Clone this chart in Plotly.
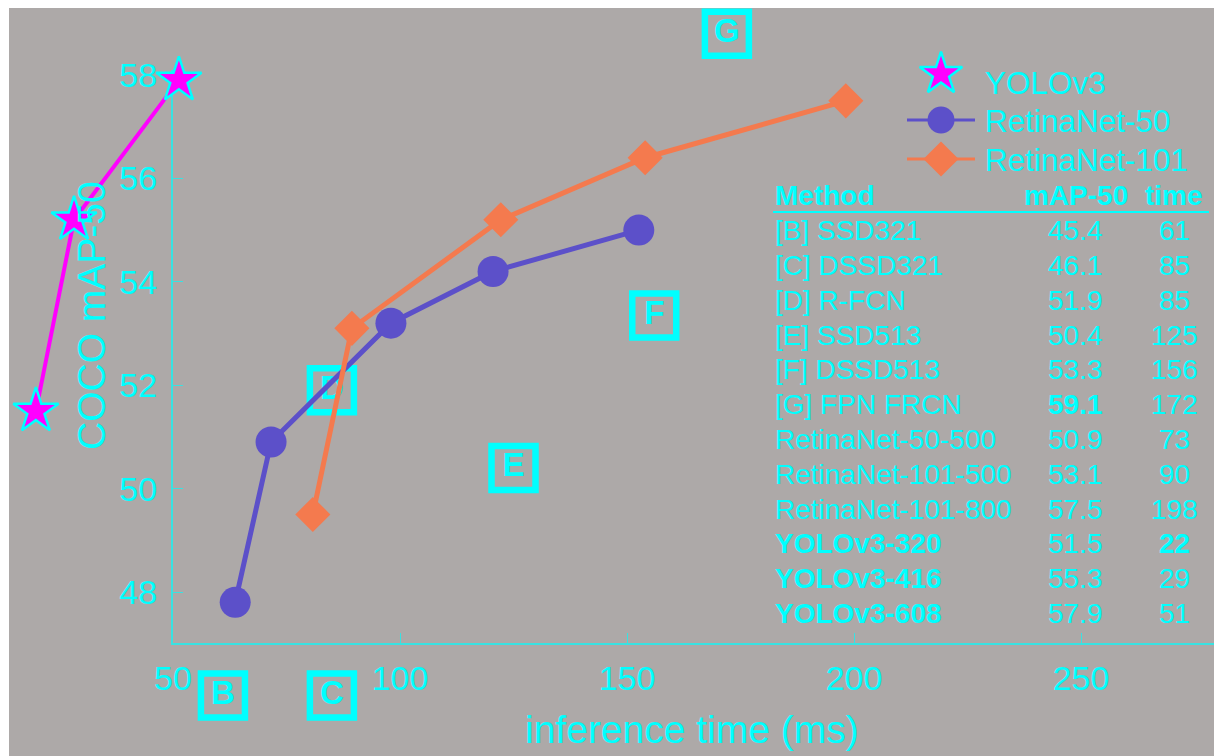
import plotly.graph_objects as go

W, H = 1214, 756

# ---------------- data ----------------
yolo_time = [19.8, 28.2, 51.3]
yolo_map = [51.5, 55.2, 57.9]

r50_time = [63.7, 71.6, 98.0, 120.5, 152.6]
r50_map = [47.8, 50.9, 53.2, 54.2, 55.0]

r101_time = [80.8, 89.4, 122.2, 154.0, 198.2]
r101_map = [49.5, 53.1, 55.2, 56.4, 57.5]

box_labels = ["B", "C", "D", "E", "F", "G"]
box_time = [61, 85, 85, 125, 156, 172]
box_map = [46.0, 46.0, 51.9, 50.4, 53.35, 58.8]

x_ticks = [50, 100, 150, 200, 250]
y_ticks = [48, 50, 52, 54, 56, 58]

table_header = ["Method", "mAP-50", "time"]
table_methods = ["[B] SSD321", "[C] DSSD321", "[D] R-FCN", "[E] SSD513", "[F] DSSD513",
                 "[G] FPN FRCN", "RetinaNet-50-500", "RetinaNet-101-500", "RetinaNet-101-800",
                 "YOLOv3-320", "YOLOv3-416", "YOLOv3-608"]
table_map = ["45.4", "46.1", "51.9", "50.4", "53.3", "59.1", "50.9", "53.1", "57.5",
             "51.5", "55.3", "57.9"]
table_time = ["61", "85", "85", "125", "156", "172", "73", "90", "198", "22", "29", "51"]
bold_method = [False] * 9 + [True] * 3
bold_map = [False] * 5 + [True] + [False] * 6
bold_time = [False] * 9 + [True] + [False] * 2

legend_names = ["YOLOv3", "RetinaNet-50", "RetinaNet-101"]

# ---------------- styling / layout constants ----------------
FONT = "Liberation Sans, Arial, Helvetica, sans-serif"
CYAN = "#00FFFF"
AXIS_CYAN = "#38E2E2"
GRAY = "#ADA9A8"
MAGENTA = "#FF00FF"
BLUE = "#5C50C9"
ORANGE = "#F47A4E"

# pixel calibration of the data axes
X50_PX, PX_PER_MS = 173.0, 4.54
Y48_PX, PX_PER_MAP = 592.0, 51.7
AXIS_BOTTOM_PX, AXIS_TOP_PX = 643.3, 70.0


def x_at(px):
    return 50 + (px - X50_PX) / PX_PER_MS


def y_at(py):
    return 48 + (Y48_PX - py) / PX_PER_MAP


def bold(s, b):
    return f"<b>{s}</b>" if b else s


fig = go.Figure()

# subplot xy: visible axes only
fig.add_trace(go.Scatter(x=[], y=[], xaxis="x", yaxis="y", showlegend=False, hoverinfo="skip"))

# subplot x2y2: data (full figure area, not clipped)
fig.add_trace(go.Scatter(
    x=box_time, y=box_map, xaxis="x2", yaxis="y2", mode="markers+text",
    text=[f"<b>{t}</b>" for t in box_labels], textposition="middle center",
    textfont=dict(family=FONT, size=33, color=CYAN),
    marker=dict(symbol="square-open", size=44, color=CYAN, line=dict(width=6.5, color=CYAN)),
    cliponaxis=False, showlegend=False, hoverinfo="skip"))

fig.add_trace(go.Scatter(
    x=yolo_time, y=yolo_map, xaxis="x2", yaxis="y2", mode="lines+markers", name="YOLOv3",
    line=dict(color=MAGENTA, width=4),
    marker=dict(symbol="star", size=34, color=MAGENTA, line=dict(color=CYAN, width=2.5)),
    cliponaxis=False, showlegend=False))

fig.add_trace(go.Scatter(
    x=r50_time, y=r50_map, xaxis="x2", yaxis="y2", mode="lines+markers", name="RetinaNet-50",
    line=dict(color=BLUE, width=5),
    marker=dict(symbol="circle", size=31, color=BLUE),
    cliponaxis=False, showlegend=False))

fig.add_trace(go.Scatter(
    x=r101_time, y=r101_map, xaxis="x2", yaxis="y2", mode="lines+markers", name="RetinaNet-101",
    line=dict(color=ORANGE, width=5),
    marker=dict(symbol="diamond", size=27, color=ORANGE),
    cliponaxis=False, showlegend=False))

# subplot x3y3: pixel-space overlay for the legend keys
LEG_X, LEG_LINE = 941, (907, 975)
LEG_Y = [74, 120, 159]
fig.add_trace(go.Scatter(x=[LEG_X], y=[LEG_Y[0]], xaxis="x3", yaxis="y3", mode="markers",
                         marker=dict(symbol="star", size=32, color=MAGENTA, line=dict(color=CYAN, width=2.5)),
                         cliponaxis=False, showlegend=False, hoverinfo="skip"))
for yy, col, sym, sz in [(LEG_Y[1], BLUE, "circle", 27), (LEG_Y[2], ORANGE, "diamond", 27)]:
    fig.add_trace(go.Scatter(x=list(LEG_LINE), y=[yy, yy], xaxis="x3", yaxis="y3", mode="lines",
                             line=dict(color=col, width=3), showlegend=False, hoverinfo="skip"))
    fig.add_trace(go.Scatter(x=[LEG_X], y=[yy], xaxis="x3", yaxis="y3", mode="markers",
                             marker=dict(symbol=sym, size=sz, color=col),
                             cliponaxis=False, showlegend=False, hoverinfo="skip"))

annotations = []
LEG_TEXT_X, LEG_TEXT_Y = 983, [83, 121, 160]
for name, yy in zip(legend_names, LEG_TEXT_Y):
    annotations.append(dict(x=LEG_TEXT_X, y=yy, xref="x3", yref="y3", text=name, showarrow=False,
                            xanchor="left", yanchor="middle",
                            font=dict(family=FONT, size=31.5, color=CYAN)))

# table
COL_METHOD_X, COL_MAP_X, COL_TIME_X = 773, 1075.5, 1174
HEADER_Y, ROW0_Y, ROW_DY = 195, 230.7, 34.8
tfont = dict(family=FONT, size=28, color=CYAN)
for txt, xx, anc in zip(table_header, [COL_METHOD_X, COL_MAP_X, COL_TIME_X], ["left", "center", "center"]):
    annotations.append(dict(x=xx, y=HEADER_Y, xref="x3", yref="y3", text=f"<b>{txt}</b>",
                            showarrow=False, xanchor=anc, yanchor="middle", font=tfont))
for i, (m, mp, t) in enumerate(zip(table_methods, table_map, table_time)):
    yy = ROW0_Y + i * ROW_DY
    annotations.append(dict(x=COL_METHOD_X, y=yy, xref="x3", yref="y3", text=bold(m, bold_method[i]),
                            showarrow=False, xanchor="left", yanchor="middle", font=tfont))
    annotations.append(dict(x=COL_MAP_X, y=yy, xref="x3", yref="y3", text=bold(mp, bold_map[i]),
                            showarrow=False, xanchor="center", yanchor="middle", font=tfont))
    annotations.append(dict(x=COL_TIME_X, y=yy, xref="x3", yref="y3", text=bold(t, bold_time[i]),
                            showarrow=False, xanchor="center", yanchor="middle", font=tfont))

# axis titles
annotations.append(dict(x=91, y=316, xref="x3", yref="y3", text="COCO mAP-50", textangle=-90,
                        showarrow=False, xanchor="center", yanchor="middle",
                        font=dict(family=FONT, size=39, color=CYAN)))
annotations.append(dict(x=692, y=729, xref="x3", yref="y3", text="inference time (ms)",
                        showarrow=False, xanchor="center", yanchor="middle",
                        font=dict(family=FONT, size=39, color=CYAN)))

shapes = [
    dict(type="rect", xref="paper", yref="paper", x0=9 / W, x1=1, y0=0, y1=1 - 8 / H,
         fillcolor=GRAY, line=dict(width=0), layer="below"),
    dict(type="line", xref="x3", yref="y3", x0=773, x1=1209, y0=212, y1=212,
         line=dict(color=CYAN, width=2)),
]

tickfont = dict(family=FONT, size=34, color=CYAN)
fig.update_layout(
    width=W, height=H, margin=dict(l=0, r=0, t=0, b=0, pad=0, autoexpand=False),
    paper_bgcolor="white", plot_bgcolor="rgba(0,0,0,0)",
    showlegend=False,
    xaxis=dict(domain=[X50_PX / W, 1], range=[50, x_at(W)], anchor="y", automargin=False,
               showline=True, linecolor=AXIS_CYAN, linewidth=2, ticks="inside", ticklen=10,
               tickwidth=1, tickcolor=AXIS_CYAN, tickvals=x_ticks, tickfont=tickfont,
               ticklabelstandoff=4, showgrid=False, zeroline=False, fixedrange=True),
    yaxis=dict(domain=[1 - AXIS_BOTTOM_PX / H, 1 - AXIS_TOP_PX / H], automargin=False,
               range=[y_at(AXIS_BOTTOM_PX), y_at(AXIS_TOP_PX)], anchor="x",
               showline=True, linecolor=AXIS_CYAN, linewidth=2, ticks="inside", ticklen=10,
               tickwidth=1, tickcolor=AXIS_CYAN, tickvals=y_ticks, tickfont=tickfont,
               ticklabelstandoff=7, showgrid=False, zeroline=False, fixedrange=True),
    xaxis2=dict(domain=[0, 1], range=[x_at(0), x_at(W)], anchor="y2", visible=False,
                automargin=False, fixedrange=True),
    yaxis2=dict(domain=[0, 1], range=[y_at(H), y_at(0)], anchor="x2", visible=False,
                automargin=False, fixedrange=True),
    xaxis3=dict(domain=[0, 1], range=[0, W], anchor="y3", visible=False,
                automargin=False, fixedrange=True),
    yaxis3=dict(domain=[0, 1], range=[H, 0], anchor="x3", visible=False,
                automargin=False, fixedrange=True),
    annotations=annotations, shapes=shapes,
)

fig.write_html("out.html")
